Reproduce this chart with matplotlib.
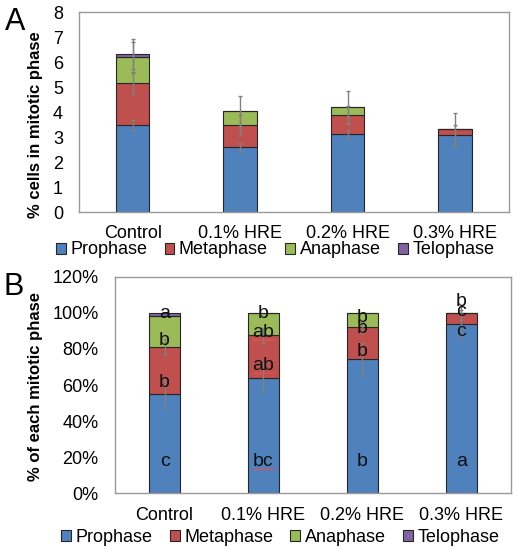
import matplotlib.pyplot as plt
import numpy as np

plt.rcParams['font.family'] = ['Liberation Sans', 'DejaVu Sans']

categories = ['Control', '0.1% HRE', '0.2% HRE', '0.3% HRE']
phases = ['Prophase', 'Metaphase', 'Anaphase', 'Telophase']
colors = ['#4F81BD', '#C0504D', '#9BBB59', '#8064A2']

# panell A: % de cèl·lules en cada fase
a_vals = {
    'Prophase':  [3.47, 2.60, 3.13, 3.09],
    'Metaphase': [1.69, 0.90, 0.76, 0.22],
    'Anaphase':  [1.04, 0.53, 0.32, 0.00],
    'Telophase': [0.12, 0.00, 0.00, 0.00],
}
a_err = {
    'Prophase':  [0.20, 0.18, 0.15, 0.40],
    'Metaphase': [0.42, 0.40, 0.35, 0.65],
    'Anaphase':  [0.60, 0.60, 0.63, 0.00],
    'Telophase': [0.60, 0.00, 0.00, 0.00],
}

# panell B: % de cada fase
b_vals = {
    'Prophase':  [55.0, 64.1, 74.2, 93.8],
    'Metaphase': [26.3, 23.4, 17.8, 6.2],
    'Anaphase':  [16.9, 12.5, 8.0, 0.0],
    'Telophase': [1.8, 0.0, 0.0, 0.0],
}
b_err = {
    'Prophase':  [8.0, 8.0, 9.0, 8.0],
    'Metaphase': [4.0, 4.0, 3.0, 4.0],
    'Anaphase':  [0.0, 0.0, 0.0, 0.0],
    'Telophase': [0.0, 0.0, 0.0, 0.0],
}

# lletres de significació (text, posició y en %)
b_letters = {
    'Prophase':  (['c', 'bc', 'b', 'a'], [17.5, 17.5, 17.5, 17.5]),
    'Metaphase': (['b', 'ab', 'b', 'c'], [61.6, 70.9, 78.6, 89.8]),
    'Anaphase':  (['b', 'ab', 'b', 'c'], [84.7, 89.3, 91.3, 100.9]),
    'Telophase': (['a', 'b', 'b', 'b'], [99.5, 99.5, 97.6, 106.3]),
}
# subratllat ondulat vermell del corrector (com a l'original)
squiggly = ['bc', 'ab']

fig = plt.figure(figsize=(5.16, 5.5), dpi=100)
axA = fig.add_axes([0.153, 0.6145, 0.833, 0.3635])
axB = fig.add_axes([0.223, 0.1036, 0.767, 0.3928])

x = np.arange(len(categories))
w = 0.31


def stacked(ax, vals, errs):
    bottom = np.zeros(len(categories))
    handles = []
    for ph, col in zip(phases, colors):
        v = np.array(vals[ph])
        h = ax.bar(x, v, w, bottom=bottom, color=col, edgecolor='#262626',
                   linewidth=0.8, label=ph, zorder=2)
        handles.append(h)
        bottom = bottom + v
        e = np.array(errs[ph])
        mask = (v > 0) & (e > 0)
        ax.errorbar(x[mask], bottom[mask], yerr=e[mask], fmt='none',
                    ecolor='#808080', elinewidth=1.0, capsize=1.2, zorder=4)
    return handles


def style(ax):
    for s in ax.spines.values():
        s.set_color('#9a9a9a')
        s.set_linewidth(1.0)
    ax.tick_params(length=0, labelsize=13)
    ax.set_xlim(-0.5, 3.5)


hA = stacked(axA, a_vals, a_err)
style(axA)
axA.set_ylim(0, 8)
axA.set_yticks(range(0, 9))
axA.tick_params(axis='y', pad=11.5)
axA.tick_params(axis='x', pad=9.5)
axA.set_xticks(x)
axA.set_xticklabels(categories)
axA.set_ylabel('% cells in mitotic phase', fontsize=12, fontweight='bold')
axA.yaxis.set_label_coords(-0.084, 0.435)

hB = stacked(axB, b_vals, b_err)
style(axB)
axB.set_ylim(0, 120)
axB.set_yticks(range(0, 121, 20))
axB.set_yticklabels([f'{t}%' for t in range(0, 121, 20)])
axB.tick_params(axis='y', pad=12)
axB.tick_params(axis='x', pad=10)
axB.set_xticks(x)
axB.set_xticklabels(categories)
axB.set_ylabel('% of each mitotic phase', fontsize=12, fontweight='bold')
axB.yaxis.set_label_coords(-0.182, 0.493)

for ph in phases:
    labs, ys = b_letters[ph]
    for xi, lab, yi in zip(x, labs, ys):
        axB.text(xi, yi, lab, ha='center', va='center', fontsize=14,
                 color='#111111', zorder=5)
        if lab in squiggly:
            zx = xi + np.linspace(-0.105, 0.105, 15)
            zy = yi - 4.4 + np.tile([0.35, -0.35], 8)[:15]
            axB.plot(zx, zy, color='#e8504a', lw=0.7, zorder=6)

for anchor_y, anchor_x in [(250, 0.533), (537, 0.543)]:
    fig.legend(hA, phases, loc='center', ncol=4,
               bbox_to_anchor=(anchor_x, 1 - anchor_y / 550),
               frameon=False, fontsize=13, handlelength=0.55,
               handleheight=0.55, handletextpad=0.25, columnspacing=0.95,
               borderaxespad=0)

fig.text(15 / 516, 1 - 22 / 550, 'A', fontsize=22, ha='center', va='center')
fig.text(14 / 516, 1 - 287 / 550, 'B', fontsize=22, ha='center', va='center')

fig.savefig('out.png', dpi=100)
